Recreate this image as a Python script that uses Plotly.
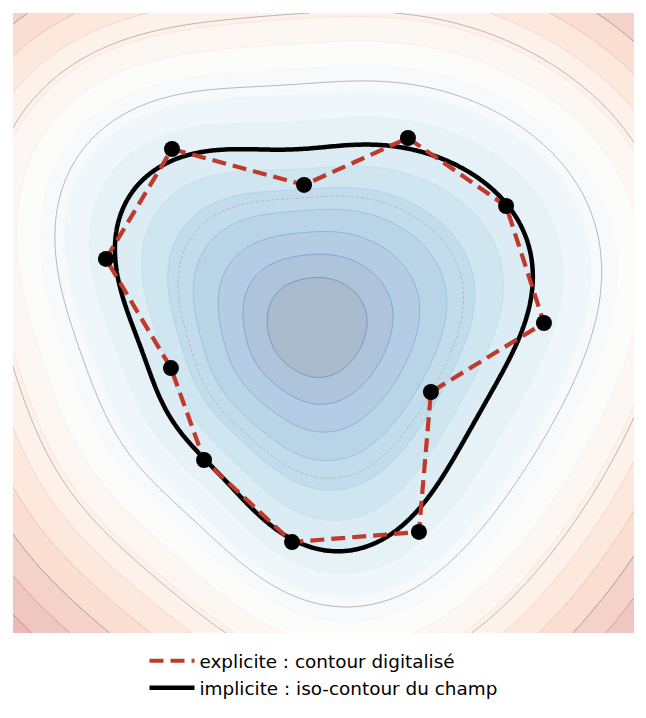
import numpy as np
import plotly.graph_objects as go

# ---------------- data ----------------
# explicit contour: digitised points (closed polygon)
pts_x = [-0.732, -0.094, 0.408, 0.882, 1.065, 0.519, 0.461, -0.152, -0.577, -0.737, -1.051]
pts_y = [0.842, 0.668, 0.895, 0.566, 0.000, -0.334, -1.011, -1.060, -0.663, -0.218, 0.310]

# implicit contour: polar radius of the iso-curve around the field centre
field_center = [-0.034, -0.015]
theta_deg = [-170.0, -158.1, -138.5, -128.5, -108.9, -96.1, -88.2, -79.9, -70.6, -60.0,
             -42.2, -32.0, -21.9, -10.0, 0.8, 9.4, 15.2, 24.2, 34.0, 46.7,
             58.7, 67.8, 78.0, 87.8, 100.0, 107.6, 123.8, 134.5, 142.8, 150.0,
             156.8, 161.8, 170.3, 179.1]
radius = [0.850, 0.828, 0.832, 0.846, 0.940, 1.040, 1.083, 1.099, 1.076, 1.004,
          0.913, 0.895, 0.906, 0.937, 1.000, 1.063, 1.086, 1.096, 1.089, 1.036,
          0.995, 0.944, 0.887, 0.865, 0.874, 0.897, 1.006, 1.076, 1.110, 1.093,
          1.056, 1.022, 0.946, 0.899]

# outside the curve: distance from the curve to the first grey iso-line, per direction
gap_theta_deg = [-160.0, -123.0, -90.0, -45.0, 0.0, 9.0, 45.0, 90.0, 143.0, 160.0, 180.0]
gap_first = [0.242, 0.179, 0.319, 0.300, 0.401, 0.377, 0.411, 0.290, 0.338, 0.367, 0.300]
gap_far = 0.29
gap_decay = 0.48

# contour levels of the field
fill_start, fill_end, fill_step = -0.75, 1.5, 0.125
gray_dashed_levels = [-0.3]
gray_solid_levels = [0.3, 0.65, 1.0]
iso_level = 0.0

legend_names = ["explicite : contour digitalisé", "implicite : iso-contour du champ"]

# ---------------- field ----------------
X = np.linspace(-1.5, 1.5, 481)
Y = np.linspace(-1.5, 1.5, 481)
XX, YY = np.meshgrid(X, Y)
dx = XX - field_center[0]
dy = YY - field_center[1]
rho = np.hypot(dx, dy)
th = np.arctan2(dy, dx)


def basis(a, K):
    cols = [np.ones_like(a)]
    for k in range(1, K + 1):
        cols.append(np.cos(k * a))
        cols.append(np.sin(k * a))
    return np.stack(cols, axis=-1)


coef, *_ = np.linalg.lstsq(basis(np.radians(theta_deg), 7), np.array(radius), rcond=None)
rt = basis(th, 7) @ coef
rbar = coef[0]
delta = rt - rbar
S_in = 2 * rho / (rbar + np.sqrt(np.maximum(rbar ** 2 + 4 * delta * rho, 1e-12)))
F_in = S_in - 1

gcoef, *_ = np.linalg.lstsq(basis(np.radians(gap_theta_deg), 2), np.array(gap_first), rcond=None)
g1 = basis(th, 2) @ gcoef
dist = rho - rt
wdec = np.exp(-np.maximum(dist, 0) / gap_decay)
gap = g1 * wdec + gap_far * (1 - wdec)
F_out = gray_solid_levels[0] * dist / gap
F = np.where(dist < 0, F_in, F_out)

# ---------------- colours ----------------
RDBU = [(103, 0, 31), (178, 24, 43), (214, 96, 77), (244, 165, 130), (253, 219, 199),
        (247, 247, 247), (209, 229, 240), (146, 197, 222), (67, 147, 195), (33, 102, 172),
        (5, 48, 97)][::-1]
vmin, vmid, vmax = -0.875, 0.42, 1.68


def cmap(p):
    p = min(max(p, 0.0), 1.0) * (len(RDBU) - 1)
    i = min(int(p), len(RDBU) - 2)
    f = p - i
    return [RDBU[i][c] + f * (RDBU[i + 1][c] - RDBU[i][c]) for c in range(3)]


def norm(v):
    if v <= vmid:
        return 0.5 * (v - vmin) / (vmid - vmin)
    return 0.5 + 0.5 * (v - vmid) / (vmax - vmid)


def col(v, alpha):
    c = cmap(norm(v))
    c = [255 - alpha * (255 - x) for x in c]
    return "rgb(%d,%d,%d)" % tuple(int(round(x)) for x in c)


nc = int(round((fill_end - fill_start) / fill_step)) + 1
fill_cs = []
for j in range(nc + 1):
    m = fill_start - fill_step / 2 + j * fill_step
    fill_cs.append([j / nc, col(m, 0.35)])
line_cs = []
for k in range(nc):
    lv = fill_start + k * fill_step
    line_cs.append([k / (nc - 1), col(lv + 0.1, 0.7)])

fig = go.Figure()
fig.add_trace(go.Contour(
    x=X, y=Y, z=F, colorscale=fill_cs, showscale=False, hoverinfo="skip",
    contours=dict(start=fill_start, end=fill_end, size=fill_step, coloring="fill", showlines=False),
    line=dict(width=0), showlegend=False))
fig.add_trace(go.Contour(
    x=X, y=Y, z=F, colorscale=line_cs, showscale=False, hoverinfo="skip",
    contours=dict(start=fill_start, end=fill_end, size=fill_step, coloring="lines"),
    line=dict(width=0.8), showlegend=False))
fig.add_trace(go.Contour(
    x=X, y=Y, z=F, showscale=False, hoverinfo="skip",
    contours=dict(start=gray_dashed_levels[0], end=gray_dashed_levels[-1], size=1, coloring="none"),
    line=dict(width=0.8, color="rgb(175,175,175)", dash="3px,2px"), showlegend=False))
fig.add_trace(go.Contour(
    x=X, y=Y, z=F, showscale=False, hoverinfo="skip",
    contours=dict(start=gray_solid_levels[0], end=gray_solid_levels[-1],
                  size=gray_solid_levels[1] - gray_solid_levels[0], coloring="none"),
    line=dict(width=0.8, color="rgb(160,160,160)"), showlegend=False))
fig.add_trace(go.Contour(
    x=X, y=Y, z=F, showscale=False, hoverinfo="skip",
    contours=dict(start=iso_level, end=iso_level, size=1, coloring="none"),
    line=dict(width=4.5, color="black"), showlegend=False))

# explicit polygon
fig.add_trace(go.Scatter(
    x=pts_x + pts_x[:1], y=pts_y + pts_y[:1], mode="lines",
    line=dict(color="#c0392b", width=4.2, dash="14px,7px"),
    name=legend_names[0], showlegend=True))
fig.add_trace(go.Scatter(
    x=[None], y=[None], mode="lines", line=dict(color="black", width=4.5),
    name=legend_names[1], showlegend=True))
fig.add_trace(go.Scatter(
    x=pts_x, y=pts_y, mode="markers", marker=dict(color="black", size=16),
    showlegend=False, hoverinfo="skip"))

fig.update_layout(
    width=638, height=710,
    margin=dict(l=5, r=12, t=5, b=85),
    plot_bgcolor="white", paper_bgcolor="white",
    xaxis=dict(range=[-1.5, 1.5], visible=False),
    yaxis=dict(range=[-1.5, 1.5], visible=False),
    font=dict(family="DejaVu Sans", size=18.4, color="black"),
    legend=dict(x=0.5, xanchor="center", y=-0.015, yanchor="top", itemwidth=45,
                bgcolor="rgba(0,0,0,0)", font=dict(size=18.4), tracegroupgap=0),
)
fig.write_html("out.html")
